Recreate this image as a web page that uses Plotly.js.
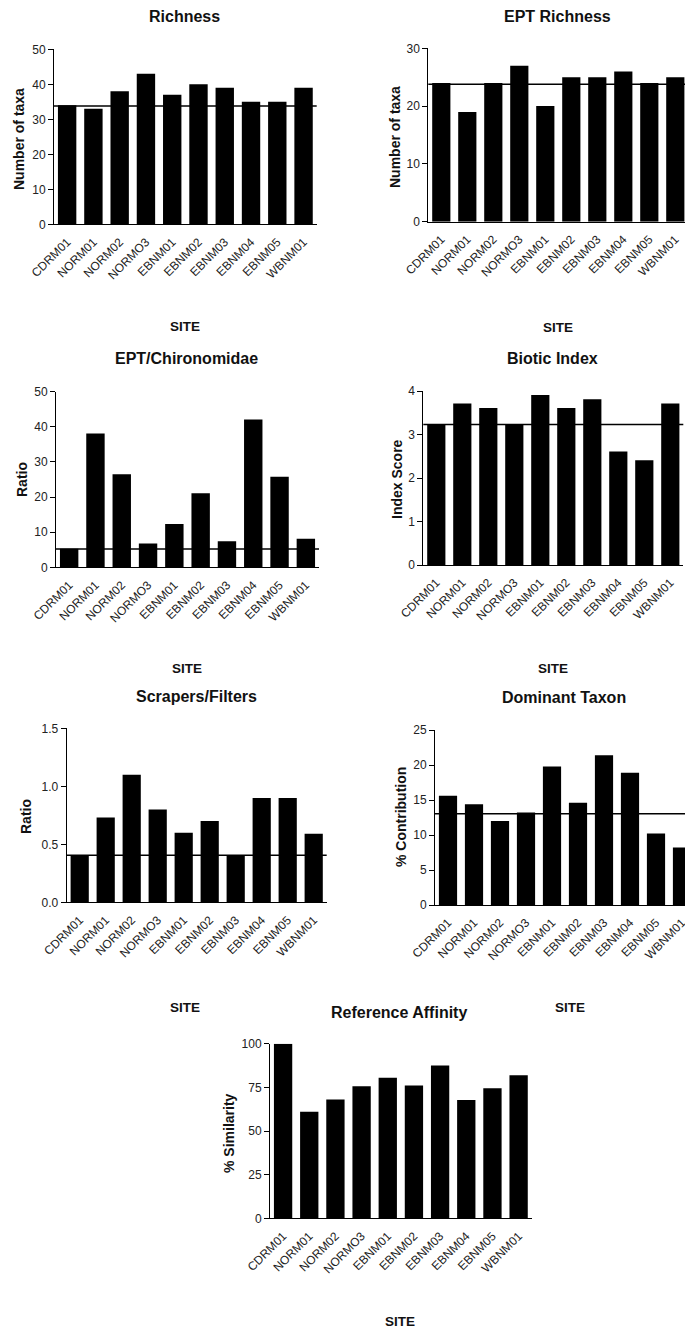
<!DOCTYPE html>
<html>
<head>
<meta charset="utf-8">
<script src="https://cdn.plot.ly/plotly-3.0.1.min.js"></script>
<style>
html, body { margin: 0; padding: 0; overflow: hidden; background: #fff; width: 685px; height: 1329px; }
#chart { width: 700px; height: 1329px; }
</style>
</head>
<body>
<div id="chart"></div>
<script>
// ---- data ----
const sites = ['CDRM01','NORM01','NORM02','NORMO3','EBNM01','EBNM02','EBNM03','EBNM04','EBNM05','WBNM01'];

const richness        = [34, 33, 38, 43, 37, 40, 39, 35, 35, 39];
const eptRichness     = [24, 19, 24, 27, 20, 25, 25, 26, 24, 25];
const eptChironomidae = [5.3, 38.1, 26.5, 6.8, 12.3, 21.1, 7.4, 42.1, 25.8, 8.1];
const bioticIndex     = [3.23, 3.71, 3.61, 3.23, 3.91, 3.61, 3.81, 2.61, 2.41, 3.71];
const scrapersFilters = [0.40, 0.73, 1.10, 0.80, 0.60, 0.70, 0.40, 0.90, 0.90, 0.59];
const dominantTaxon   = [15.6, 14.4, 12.0, 13.2, 19.8, 14.6, 21.4, 18.9, 10.2, 8.2];
const refAffinity     = [100, 61, 68, 75.7, 80.5, 76, 87.5, 67.8, 74.5, 82];

const panelTitles = ['Richness','EPT Richness','EPT/Chironomidae','Biotic Index','Scrapers/Filters','Dominant Taxon','Reference Affinity'];
const yTitles     = ['Number of taxa','Number of taxa','Ratio','Index Score','Ratio','% Contribution','% Similarity'];
const xTitle      = 'SITE';
const refLines    = [33.8, 23.8, 5.2, 3.23, 0.405, 13.05, null];
const yRanges     = [[0,50],[0,30],[0,50],[0,4],[0,1.5],[0,25],[0,100]];
const yDticks     = [10, 10, 10, 1, 0.5, 5, 25];

const series = [richness, eptRichness, eptChironomidae, bioticIndex, scrapersFilters, dominantTaxon, refAffinity];

// ---- layout geometry (pixels) ----
const W = 700, H = 1329;
const geom = [
  {x0: 54,    x1: 316.7, y0: 49.3,  y1: 224.3,  t: [184, 16],   yt: [19, 139],  st: [185, 326]},
  {x0: 428.3, x1: 688.3, y0: 48.3,  y1: 221.7,  t: [557, 16],   yt: [395, 137], st: [558, 327]},
  {x0: 56,    x1: 319,   y0: 391.7, y1: 567.3,  t: [186, 359],  yt: [22, 480],  st: [187, 668]},
  {x0: 423.3, x1: 683.3, y0: 391,   y1: 565,    t: [552, 359],  yt: [397, 479], st: [553, 668]},
  {x0: 66.7,  x1: 326.7, y0: 728.3, y1: 902.3,  t: [196, 696],  yt: [26, 817],  st: [185, 1007]},
  {x0: 435,   x1: 695,   y0: 730,   y1: 905,    t: [564, 697],  yt: [401, 817], st: [570, 1007]},
  {x0: 270,   x1: 531.7, y0: 1043.7,y1: 1218.3, t: [399, 1012], yt: [229, 1133],st: [400, 1321]}
];
const fx = p => p / W;
const fy = p => 1 - p / H;

const FONT = 'Arial, "Liberation Sans", Helvetica, sans-serif';
const traces = [];
const layout = {
  width: W, height: H,
  margin: {l: 0, r: 0, t: 0, b: 0},
  paper_bgcolor: '#fff', plot_bgcolor: '#fff',
  showlegend: false,
  font: {family: FONT, color: '#222'},
  bargap: 0.3,
  annotations: [],
  shapes: []
};

series.forEach((vals, i) => {
  const n = i === 0 ? '' : String(i + 1);
  const g = geom[i];
  traces.push({
    type: 'bar', x: sites, y: vals,
    xaxis: 'x' + n, yaxis: 'y' + n,
    marker: {color: '#000', line: {width: 0}},
    hoverinfo: 'x+y'
  });
  layout['xaxis' + n] = {
    domain: [fx(g.x0), fx(g.x1)],
    anchor: 'y' + n,
    type: 'category',
    showline: true, linecolor: '#000', linewidth: 1,
    ticks: 'outside', ticklen: 5, tickcolor: 'rgba(0,0,0,0)',
    showgrid: false, zeroline: false,
    tickangle: -45,
    tickfont: {family: FONT, size: 12, color: '#222'},
    fixedrange: true
  };
  layout['yaxis' + n] = {
    domain: [fy(g.y1), fy(g.y0)],
    anchor: 'x' + n,
    range: yRanges[i],
    dtick: yDticks[i], tick0: 0,
    tickformat: i === 4 ? '.1f' : '',
    showline: true, linecolor: '#000', linewidth: 1,
    ticks: 'outside', ticklen: 5, tickcolor: '#000', tickwidth: 1,
    showgrid: false, zeroline: false,
    tickfont: {family: FONT, size: 12, color: '#222'},
    fixedrange: true
  };
  if (refLines[i] !== null) {
    layout.shapes.push({
      type: 'line', xref: 'x' + n + ' domain', yref: 'y' + n,
      x0: 0, x1: 1, y0: refLines[i], y1: refLines[i],
      line: {color: '#000', width: 1.5}
    });
  }
  layout.annotations.push({
    text: '<b>' + panelTitles[i] + '</b>', showarrow: false,
    xref: 'paper', yref: 'paper', x: fx(g.t[0]), y: fy(g.t[1]),
    xanchor: 'center', yanchor: 'middle',
    font: {family: FONT, size: 16, color: '#111'}
  });
  layout.annotations.push({
    text: '<b>' + yTitles[i] + '</b>', showarrow: false, textangle: -90,
    xref: 'paper', yref: 'paper', x: fx(g.yt[0]), y: fy(g.yt[1]),
    xanchor: 'center', yanchor: 'middle',
    font: {family: FONT, size: 14, color: '#111'}
  });
  layout.annotations.push({
    text: '<b>' + xTitle + '</b>', showarrow: false,
    xref: 'paper', yref: 'paper', x: fx(g.st[0]), y: fy(g.st[1]),
    xanchor: 'center', yanchor: 'middle',
    font: {family: FONT, size: 13.5, color: '#111'}
  });
});

Plotly.newPlot('chart', traces, layout, {displayModeBar: false, staticPlot: true});
</script>
</body>
</html>
